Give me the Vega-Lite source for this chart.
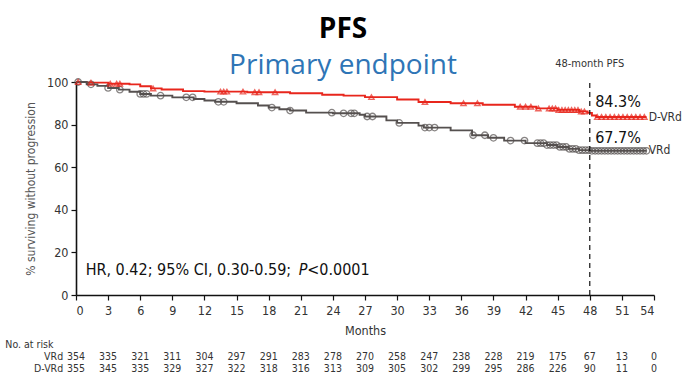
{
  "$schema": "https://vega.github.io/schema/vega-lite/v6.json",
  "width": 578,
  "height": 213,
  "autosize": {"type": "none"},
  "padding": {"left": 76, "top": 82, "right": 32, "bottom": 83},
  "background": "white",
  "config": {
    "view": {"stroke": null},
    "font": "Liberation Sans Narrow, DejaVu Sans Condensed, Liberation Sans"
  },
  "title": {
    "text": "PFS",
    "subtitle": "Primary endpoint",
    "font": "Open Sans",
    "fontSize": 28,
    "fontWeight": "bold",
    "color": "#000000",
    "subtitleFont": "Open Sans",
    "subtitleFontSize": 28,
    "subtitleColor": "#2E75B6",
    "subtitlePadding": 8,
    "anchor": "middle",
    "frame": "group",
    "dx": -22,
    "offset": -22
  },
  "datasets": {
    "curves": [
      {"arm": "D-VRd", "month": 0, "surv": 100},
      {"arm": "D-VRd", "month": 1, "surv": 99.7},
      {"arm": "D-VRd", "month": 3, "surv": 99.2},
      {"arm": "D-VRd", "month": 5, "surv": 98.9},
      {"arm": "D-VRd", "month": 6, "surv": 98.0},
      {"arm": "D-VRd", "month": 7, "surv": 97.0},
      {"arm": "D-VRd", "month": 8, "surv": 96.5},
      {"arm": "D-VRd", "month": 10, "surv": 95.7},
      {"arm": "D-VRd", "month": 12, "surv": 95.5},
      {"arm": "D-VRd", "month": 16, "surv": 95.2},
      {"arm": "D-VRd", "month": 20, "surv": 94.7},
      {"arm": "D-VRd", "month": 23, "surv": 94.0},
      {"arm": "D-VRd", "month": 25, "surv": 93.6},
      {"arm": "D-VRd", "month": 27, "surv": 92.9},
      {"arm": "D-VRd", "month": 30, "surv": 91.8},
      {"arm": "D-VRd", "month": 32, "surv": 90.6},
      {"arm": "D-VRd", "month": 35, "surv": 90.0},
      {"arm": "D-VRd", "month": 38, "surv": 89.3},
      {"arm": "D-VRd", "month": 41, "surv": 88.4},
      {"arm": "D-VRd", "month": 43, "surv": 87.6},
      {"arm": "D-VRd", "month": 45, "surv": 86.9},
      {"arm": "D-VRd", "month": 47, "surv": 86.2},
      {"arm": "D-VRd", "month": 47.8, "surv": 85.5},
      {"arm": "D-VRd", "month": 48.2, "surv": 84.3},
      {"arm": "D-VRd", "month": 48.6, "surv": 83.6},
      {"arm": "D-VRd", "month": 53.3, "surv": 83.6},
      {"arm": "VRd", "month": 0, "surv": 100},
      {"arm": "VRd", "month": 1, "surv": 98.9},
      {"arm": "VRd", "month": 2, "surv": 98.2},
      {"arm": "VRd", "month": 3, "surv": 97.2},
      {"arm": "VRd", "month": 4, "surv": 96.4},
      {"arm": "VRd", "month": 5, "surv": 95.4},
      {"arm": "VRd", "month": 6, "surv": 94.4},
      {"arm": "VRd", "month": 7, "surv": 93.6},
      {"arm": "VRd", "month": 9, "surv": 92.8},
      {"arm": "VRd", "month": 11, "surv": 92.0},
      {"arm": "VRd", "month": 12, "surv": 91.3},
      {"arm": "VRd", "month": 13, "surv": 90.7},
      {"arm": "VRd", "month": 15, "surv": 90.0},
      {"arm": "VRd", "month": 17, "surv": 89.0},
      {"arm": "VRd", "month": 18, "surv": 88.0},
      {"arm": "VRd", "month": 19, "surv": 87.2},
      {"arm": "VRd", "month": 20, "surv": 86.6},
      {"arm": "VRd", "month": 21.5, "surv": 85.6},
      {"arm": "VRd", "month": 24, "surv": 85.3},
      {"arm": "VRd", "month": 26.5, "surv": 84.6},
      {"arm": "VRd", "month": 27, "surv": 83.8},
      {"arm": "VRd", "month": 29, "surv": 82.0},
      {"arm": "VRd", "month": 30, "surv": 80.8},
      {"arm": "VRd", "month": 32, "surv": 79.5},
      {"arm": "VRd", "month": 32.5, "surv": 78.6},
      {"arm": "VRd", "month": 35, "surv": 77.3},
      {"arm": "VRd", "month": 37, "surv": 75.0},
      {"arm": "VRd", "month": 38.5, "surv": 73.8},
      {"arm": "VRd", "month": 40, "surv": 72.5},
      {"arm": "VRd", "month": 42, "surv": 71.3},
      {"arm": "VRd", "month": 44, "surv": 70.4},
      {"arm": "VRd", "month": 45, "surv": 69.5},
      {"arm": "VRd", "month": 46, "surv": 68.6},
      {"arm": "VRd", "month": 47, "surv": 68.0},
      {"arm": "VRd", "month": 48, "surv": 67.7},
      {"arm": "VRd", "month": 53.3, "surv": 67.7}
    ],
    "censor": [
      {"arm": "D-VRd", "month": 0.2, "surv": 100},
      {"arm": "D-VRd", "month": 1.4, "surv": 99.7},
      {"arm": "D-VRd", "month": 3.2, "surv": 99.2},
      {"arm": "D-VRd", "month": 3.8, "surv": 99.2},
      {"arm": "D-VRd", "month": 4.1, "surv": 99.2},
      {"arm": "D-VRd", "month": 7.2, "surv": 97.0},
      {"arm": "D-VRd", "month": 13.5, "surv": 95.5},
      {"arm": "D-VRd", "month": 13.8, "surv": 95.5},
      {"arm": "D-VRd", "month": 14.1, "surv": 95.5},
      {"arm": "D-VRd", "month": 15.6, "surv": 95.5},
      {"arm": "D-VRd", "month": 16.7, "surv": 95.2},
      {"arm": "D-VRd", "month": 17.1, "surv": 95.2},
      {"arm": "D-VRd", "month": 18.6, "surv": 95.2},
      {"arm": "D-VRd", "month": 27.6, "surv": 92.9},
      {"arm": "D-VRd", "month": 32.6, "surv": 90.6},
      {"arm": "D-VRd", "month": 36.2, "surv": 90.0},
      {"arm": "D-VRd", "month": 37.5, "surv": 90.0},
      {"arm": "D-VRd", "month": 41.5, "surv": 88.4},
      {"arm": "D-VRd", "month": 42.0, "surv": 88.4},
      {"arm": "D-VRd", "month": 42.5, "surv": 88.4},
      {"arm": "D-VRd", "month": 43.2, "surv": 87.6},
      {"arm": "D-VRd", "month": 44.2, "surv": 87.6},
      {"arm": "D-VRd", "month": 44.5, "surv": 87.6},
      {"arm": "D-VRd", "month": 44.8, "surv": 87.6},
      {"arm": "D-VRd", "month": 45.1, "surv": 86.9},
      {"arm": "D-VRd", "month": 45.4, "surv": 86.9},
      {"arm": "D-VRd", "month": 45.7, "surv": 86.9},
      {"arm": "D-VRd", "month": 46.0, "surv": 86.9},
      {"arm": "D-VRd", "month": 46.3, "surv": 86.9},
      {"arm": "D-VRd", "month": 46.6, "surv": 86.9},
      {"arm": "D-VRd", "month": 46.9, "surv": 86.9},
      {"arm": "D-VRd", "month": 47.2, "surv": 86.2},
      {"arm": "D-VRd", "month": 47.5, "surv": 86.2},
      {"arm": "D-VRd", "month": 48.7, "surv": 83.6},
      {"arm": "D-VRd", "month": 49.1, "surv": 83.6},
      {"arm": "D-VRd", "month": 49.5, "surv": 83.6},
      {"arm": "D-VRd", "month": 49.9, "surv": 83.6},
      {"arm": "D-VRd", "month": 50.3, "surv": 83.6},
      {"arm": "D-VRd", "month": 50.7, "surv": 83.6},
      {"arm": "D-VRd", "month": 51.1, "surv": 83.6},
      {"arm": "D-VRd", "month": 51.5, "surv": 83.6},
      {"arm": "D-VRd", "month": 51.9, "surv": 83.6},
      {"arm": "D-VRd", "month": 52.3, "surv": 83.6},
      {"arm": "D-VRd", "month": 52.7, "surv": 83.6},
      {"arm": "D-VRd", "month": 53.1, "surv": 83.6},
      {"arm": "VRd", "month": 0.2, "surv": 100},
      {"arm": "VRd", "month": 1.4, "surv": 98.9},
      {"arm": "VRd", "month": 3.0, "surv": 97.2},
      {"arm": "VRd", "month": 4.1, "surv": 96.4},
      {"arm": "VRd", "month": 6.0, "surv": 94.4},
      {"arm": "VRd", "month": 6.3, "surv": 94.4},
      {"arm": "VRd", "month": 6.6, "surv": 94.4},
      {"arm": "VRd", "month": 7.9, "surv": 93.6},
      {"arm": "VRd", "month": 10.3, "surv": 92.8},
      {"arm": "VRd", "month": 10.9, "surv": 92.8},
      {"arm": "VRd", "month": 13.3, "surv": 90.7},
      {"arm": "VRd", "month": 13.8, "surv": 90.7},
      {"arm": "VRd", "month": 18.3, "surv": 88.0},
      {"arm": "VRd", "month": 20.0, "surv": 86.6},
      {"arm": "VRd", "month": 23.9, "surv": 85.6},
      {"arm": "VRd", "month": 25.0, "surv": 85.3},
      {"arm": "VRd", "month": 25.7, "surv": 85.3},
      {"arm": "VRd", "month": 26.0, "surv": 85.3},
      {"arm": "VRd", "month": 27.2, "surv": 83.8},
      {"arm": "VRd", "month": 27.7, "surv": 83.8},
      {"arm": "VRd", "month": 30.2, "surv": 80.8},
      {"arm": "VRd", "month": 32.6, "surv": 78.6},
      {"arm": "VRd", "month": 33.0, "surv": 78.6},
      {"arm": "VRd", "month": 33.5, "surv": 78.6},
      {"arm": "VRd", "month": 37.1, "surv": 75.0},
      {"arm": "VRd", "month": 38.2, "surv": 75.0},
      {"arm": "VRd", "month": 39.0, "surv": 73.8},
      {"arm": "VRd", "month": 40.6, "surv": 72.5},
      {"arm": "VRd", "month": 41.9, "surv": 72.5},
      {"arm": "VRd", "month": 43.1, "surv": 71.3},
      {"arm": "VRd", "month": 43.4, "surv": 71.3},
      {"arm": "VRd", "month": 43.7, "surv": 71.3},
      {"arm": "VRd", "month": 44.0, "surv": 70.4},
      {"arm": "VRd", "month": 44.3, "surv": 70.4},
      {"arm": "VRd", "month": 44.6, "surv": 70.4},
      {"arm": "VRd", "month": 44.9, "surv": 70.4},
      {"arm": "VRd", "month": 45.2, "surv": 69.5},
      {"arm": "VRd", "month": 45.5, "surv": 69.5},
      {"arm": "VRd", "month": 45.8, "surv": 69.5},
      {"arm": "VRd", "month": 46.1, "surv": 68.6},
      {"arm": "VRd", "month": 46.4, "surv": 68.6},
      {"arm": "VRd", "month": 46.7, "surv": 68.6},
      {"arm": "VRd", "month": 47.0, "surv": 68.0},
      {"arm": "VRd", "month": 47.3, "surv": 68.0},
      {"arm": "VRd", "month": 47.6, "surv": 68.0},
      {"arm": "VRd", "month": 47.9, "surv": 68.0},
      {"arm": "VRd", "month": 48.2, "surv": 67.7},
      {"arm": "VRd", "month": 48.5, "surv": 67.7},
      {"arm": "VRd", "month": 48.8, "surv": 67.7},
      {"arm": "VRd", "month": 49.1, "surv": 67.7},
      {"arm": "VRd", "month": 49.4, "surv": 67.7},
      {"arm": "VRd", "month": 49.7, "surv": 67.7},
      {"arm": "VRd", "month": 50.0, "surv": 67.7},
      {"arm": "VRd", "month": 50.3, "surv": 67.7},
      {"arm": "VRd", "month": 50.6, "surv": 67.7},
      {"arm": "VRd", "month": 50.9, "surv": 67.7},
      {"arm": "VRd", "month": 51.2, "surv": 67.7},
      {"arm": "VRd", "month": 51.5, "surv": 67.7},
      {"arm": "VRd", "month": 51.8, "surv": 67.7},
      {"arm": "VRd", "month": 52.1, "surv": 67.7},
      {"arm": "VRd", "month": 52.4, "surv": 67.7},
      {"arm": "VRd", "month": 52.7, "surv": 67.7},
      {"arm": "VRd", "month": 53.0, "surv": 67.7},
      {"arm": "VRd", "month": 53.3, "surv": 67.7}
    ],
    "risk": [
      {"arm": "VRd", "month": 0, "n": 354}, {"arm": "VRd", "month": 3, "n": 335}, {"arm": "VRd", "month": 6, "n": 321},
      {"arm": "VRd", "month": 9, "n": 311}, {"arm": "VRd", "month": 12, "n": 304}, {"arm": "VRd", "month": 15, "n": 297},
      {"arm": "VRd", "month": 18, "n": 291}, {"arm": "VRd", "month": 21, "n": 283}, {"arm": "VRd", "month": 24, "n": 278},
      {"arm": "VRd", "month": 27, "n": 270}, {"arm": "VRd", "month": 30, "n": 258}, {"arm": "VRd", "month": 33, "n": 247},
      {"arm": "VRd", "month": 36, "n": 238}, {"arm": "VRd", "month": 39, "n": 228}, {"arm": "VRd", "month": 42, "n": 219},
      {"arm": "VRd", "month": 45, "n": 175}, {"arm": "VRd", "month": 48, "n": 67}, {"arm": "VRd", "month": 51, "n": 13},
      {"arm": "VRd", "month": 54, "n": 0},
      {"arm": "D-VRd", "month": 0, "n": 355}, {"arm": "D-VRd", "month": 3, "n": 345}, {"arm": "D-VRd", "month": 6, "n": 335},
      {"arm": "D-VRd", "month": 9, "n": 329}, {"arm": "D-VRd", "month": 12, "n": 327}, {"arm": "D-VRd", "month": 15, "n": 322},
      {"arm": "D-VRd", "month": 18, "n": 318}, {"arm": "D-VRd", "month": 21, "n": 316}, {"arm": "D-VRd", "month": 24, "n": 313},
      {"arm": "D-VRd", "month": 27, "n": 309}, {"arm": "D-VRd", "month": 30, "n": 305}, {"arm": "D-VRd", "month": 33, "n": 302},
      {"arm": "D-VRd", "month": 36, "n": 299}, {"arm": "D-VRd", "month": 39, "n": 295}, {"arm": "D-VRd", "month": 42, "n": 286},
      {"arm": "D-VRd", "month": 45, "n": 226}, {"arm": "D-VRd", "month": 48, "n": 90}, {"arm": "D-VRd", "month": 51, "n": 11},
      {"arm": "D-VRd", "month": 54, "n": 0}
    ]
  },
  "encoding": {
    "x": {
      "field": "month", "type": "quantitative",
      "scale": {"domain": [0, 54], "nice": false},
      "axis": {
        "values": [0, 3, 6, 9, 12, 15, 18, 21, 24, 27, 30, 33, 36, 39, 42, 45, 48, 51, 54],
        "title": "Months", "grid": false,
        "domainColor": "#111111", "domainWidth": 1.6, "tickColor": "#111111", "tickWidth": 1.2, "tickSize": 5,
        "labelFontSize": 12.5, "labelColor": "#333333", "labelPadding": 4,
        "titleFontSize": 12.5, "titleFontWeight": "normal", "titleColor": "#333333", "titlePadding": 8
      }
    }
  },
  "layer": [
    {
      "data": {"name": "curves"},
      "mark": {"type": "line", "interpolate": "step-after", "strokeWidth": 1.9},
      "encoding": {
        "y": {
          "field": "surv", "type": "quantitative",
          "scale": {"domain": [0, 100], "nice": false},
          "axis": {
            "values": [0, 20, 40, 60, 80, 100],
            "title": "% surviving without progression", "grid": false,
            "domainColor": "#111111", "domainWidth": 1.6, "tickColor": "#111111", "tickWidth": 1.2, "tickSize": 5,
            "labelFontSize": 12.5, "labelColor": "#333333", "labelPadding": 3,
            "titleFontSize": 12, "titleFontWeight": "normal", "titleColor": "#555555", "titlePadding": 9
          }
        },
        "color": {"field": "arm", "type": "nominal", "scale": {"domain": ["D-VRd", "VRd"], "range": ["#E8261C", "#55504F"]}, "legend": null}
      }
    },
    {
      "data": {"name": "censor"},
      "transform": [{"filter": "datum.arm === 'VRd'"}],
      "mark": {"type": "point", "shape": "circle", "filled": false, "size": 42, "strokeWidth": 1.3, "color": "#55504F"},
      "encoding": {"y": {"field": "surv", "type": "quantitative"}}
    },
    {
      "data": {"name": "censor"},
      "transform": [{"filter": "datum.arm === 'D-VRd'"}],
      "mark": {"type": "point", "shape": "triangle-up", "filled": false, "size": 28, "strokeWidth": 1.4, "color": "#E8261C"},
      "encoding": {"y": {"field": "surv", "type": "quantitative"}}
    },
    {
      "data": {"values": [{"month": 48, "bottom": 0, "top": 101}]},
      "mark": {"type": "rule", "color": "#111111", "strokeDash": [5, 4], "strokeWidth": 1.2},
      "encoding": {"y": {"field": "bottom", "type": "quantitative"}, "y2": {"field": "top"}}
    },
    {
      "data": {"values": [
        {"month": 48, "surv": 108.5, "label": "48-month PFS"}
      ]},
      "mark": {"type": "text", "fontSize": 11, "color": "#333333", "align": "center", "baseline": "middle"},
      "encoding": {"y": {"field": "surv", "type": "quantitative"}, "text": {"field": "label"}}
    },
    {
      "data": {"values": [
        {"month": 48.5, "surv": 90.6, "label": "84.3%"},
        {"month": 48.5, "surv": 73.6, "label": "67.7%"}
      ]},
      "mark": {"type": "text", "fontSize": 16, "color": "#111111", "align": "left", "baseline": "middle"},
      "encoding": {"y": {"field": "surv", "type": "quantitative"}, "text": {"field": "label"}}
    },
    {
      "data": {"values": [
        {"month": 53.5, "surv": 83.6, "label": "D-VRd"},
        {"month": 53.5, "surv": 68.2, "label": "VRd"}
      ]},
      "mark": {"type": "text", "fontSize": 12, "color": "#333333", "align": "left", "baseline": "middle"},
      "encoding": {"y": {"field": "surv", "type": "quantitative"}, "text": {"field": "label"}}
    },
    {
      "data": {"values": [
        {"month": 0.9, "surv": 11.7, "label": "HR, 0.42; 95% CI, 0.30-0.59; "}
      ]},
      "mark": {"type": "text", "fontSize": 16, "color": "#111111", "align": "left", "baseline": "middle"},
      "encoding": {"y": {"field": "surv", "type": "quantitative"}, "text": {"field": "label"}}
    },
    {
      "data": {"values": [
        {"month": 20.8, "surv": 11.7, "label": "P"}
      ]},
      "mark": {"type": "text", "fontSize": 16, "fontStyle": "italic", "color": "#111111", "align": "left", "baseline": "middle"},
      "encoding": {"y": {"field": "surv", "type": "quantitative"}, "text": {"field": "label"}}
    },
    {
      "data": {"values": [
        {"month": 21.6, "surv": 11.7, "label": "<0.0001"}
      ]},
      "mark": {"type": "text", "fontSize": 16, "color": "#111111", "align": "left", "baseline": "middle"},
      "encoding": {"y": {"field": "surv", "type": "quantitative"}, "text": {"field": "label"}}
    },
    {
      "data": {"values": [
        {"month": -6.6, "surv": -23.4, "label": "No. at risk"}
      ]},
      "mark": {"type": "text", "fontSize": 10.5, "color": "#333333", "align": "left", "baseline": "middle"},
      "encoding": {"y": {"field": "surv", "type": "quantitative"}, "text": {"field": "label"}}
    },
    {
      "data": {"values": [
        {"month": -1.2, "surv": -29.2, "label": "VRd"},
        {"month": -1.2, "surv": -34.8, "label": "D-VRd"}
      ]},
      "mark": {"type": "text", "fontSize": 10.5, "color": "#333333", "align": "right", "baseline": "middle"},
      "encoding": {"y": {"field": "surv", "type": "quantitative"}, "text": {"field": "label"}}
    },
    {
      "data": {"name": "risk"},
      "transform": [{"filter": "datum.arm === 'VRd'"}],
      "mark": {"type": "text", "fontSize": 10.5, "color": "#333333", "align": "center", "baseline": "middle"},
      "encoding": {"y": {"datum": -29.2, "type": "quantitative"}, "text": {"field": "n", "type": "quantitative"}}
    },
    {
      "data": {"name": "risk"},
      "transform": [{"filter": "datum.arm === 'D-VRd'"}],
      "mark": {"type": "text", "fontSize": 10.5, "color": "#333333", "align": "center", "baseline": "middle"},
      "encoding": {"y": {"datum": -34.8, "type": "quantitative"}, "text": {"field": "n", "type": "quantitative"}}
    }
  ]
}
